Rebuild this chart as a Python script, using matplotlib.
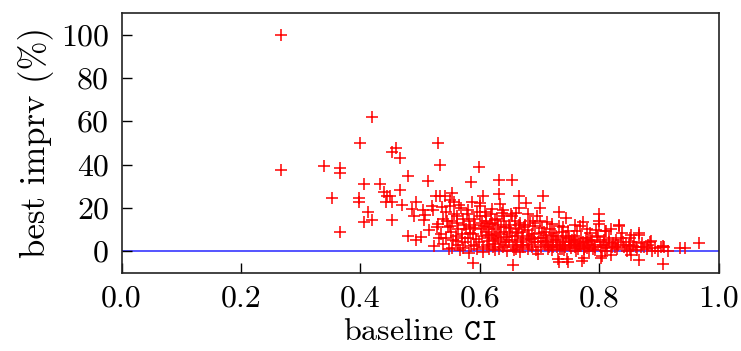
import matplotlib
matplotlib.use("Agg")
import matplotlib.pyplot as plt

# scattered points away from the main cloud
sparse_ci = [0.267, 0.267, 0.419, 0.399, 0.530, 0.459, 0.453, 0.466, 0.339, 0.366,
             0.366, 0.479, 0.513, 0.533, 0.406, 0.433, 0.439, 0.444, 0.449, 0.466,
             0.353, 0.398, 0.398, 0.442, 0.453, 0.469, 0.493, 0.413, 0.406, 0.419,
             0.453, 0.486, 0.489, 0.504, 0.506, 0.508, 0.520, 0.522, 0.527, 0.366,
             0.479, 0.493, 0.501, 0.515, 0.524, 0.529, 0.531, 0.534, 0.541, 0.554,
             0.599, 0.585, 0.632, 0.654, 0.605, 0.632, 0.666, 0.706, 0.530]
sparse_imprv = [100.0, 37.6, 61.9, 49.9, 49.9, 47.7, 45.6, 42.8, 39.1, 38.2,
                36.1, 34.8, 32.4, 40.0, 31.1, 31.1, 27.1, 25.3, 25.3, 28.4,
                24.4, 24.4, 22.8, 22.8, 22.8, 21.3, 22.8, 17.9, 13.3, 14.2,
                14.5, 19.5, 16.4, 18.8, 14.2, 16.7, 20.7, 18.8, 25.3, 9.0,
                6.8, 5.3, 6.5, 9.9, 2.5, 11.2, 5.9, 25.3, 25.3, 26.8,
                38.8, 31.7, 32.7, 32.7, 25.3, 26.5, 25.3, 25.3, 12.4]

# main cloud, (baseline CI, best imprv)
cloud = [
    (0.536, 20.5), (0.538, 15.0), (0.535, 8.0), (0.539, 3.5), (0.544, 18.0), (0.546, 11.0),
    (0.543, 6.0), (0.548, 1.0), (0.550, 23.4), (0.550, 20.7), (0.553, 14.0), (0.552, 9.0),
    (0.555, 5.0), (0.553, 1.3), (0.557, 17.0), (0.556, 22.5), (0.561, 13.0), (0.563, 10.0),
    (0.560, 7.0), (0.564, 3.0), (0.567, 0.7), (0.562, 16.0), (0.565, 21.3), (0.568, 19.8),
    (0.571, 15.0), (0.573, 12.0), (0.570, 8.0), (0.575, 4.0), (0.572, 1.5), (0.576, 10.0),
    (0.578, 17.0), (0.581, 14.0), (0.583, 11.0), (0.580, 6.0), (0.585, 2.5), (0.582, -1.0),
    (0.584, 8.5), (0.586, 22.8), (0.588, -5.5), (0.590, 15.0), (0.592, 12.0), (0.589, 8.0),
    (0.594, 5.5), (0.591, 3.0), (0.595, 1.0), (0.596, 18.0), (0.600, 22.2), (0.600, 20.7),
    (0.601, 16.0), (0.603, 13.0), (0.602, 10.0), (0.604, 7.0), (0.599, 4.0), (0.606, 2.0),
    (0.605, -0.5), (0.607, 11.5), (0.609, 18.0), (0.611, 14.0), (0.613, 11.0), (0.610, 9.0),
    (0.614, 6.0), (0.612, 3.0), (0.615, 1.0), (0.616, 7.5), (0.617, 12.5), (0.619, 17.0),
    (0.621, 13.0), (0.623, 10.0), (0.620, 8.0), (0.624, 5.0), (0.622, 2.0), (0.626, 0.5),
    (0.625, 14.5), (0.627, 7.0), (0.633, 21.6), (0.629, 15.0), (0.631, 12.0), (0.634, 9.0),
    (0.630, 6.0), (0.635, 4.0), (0.632, 1.0), (0.636, 11.0), (0.637, 17.5), (0.639, 19.0),
    (0.641, 14.0), (0.643, 11.0), (0.640, 8.0), (0.644, 5.0), (0.642, 3.0), (0.645, 0.0),
    (0.646, 6.5), (0.652, 17.0), (0.654, 16.1), (0.648, 12.0), (0.650, 9.0), (0.653, 7.0),
    (0.649, 4.0), (0.655, 2.0), (0.655, -6.2), (0.651, 10.5), (0.658, 14.0), (0.660, 10.0),
    (0.662, 7.0), (0.659, 5.0), (0.663, 3.0), (0.661, 1.0), (0.664, 8.5), (0.665, 12.0),
    (0.666, 19.8), (0.668, 13.0), (0.670, 9.0), (0.672, 6.0), (0.669, 4.0), (0.673, 2.0),
    (0.667, -0.2), (0.674, 11.0), (0.678, 22.2), (0.676, 12.0), (0.680, 9.9), (0.682, 7.0),
    (0.679, 5.0), (0.683, 3.0), (0.681, 1.0), (0.684, 14.0), (0.695, 16.4), (0.693, 11.4),
    (0.688, 8.0), (0.690, 6.0), (0.692, 4.0), (0.687, 2.0), (0.694, 0.5), (0.689, 13.0),
    (0.700, 19.8), (0.699, 8.4), (0.702, 6.0), (0.697, 4.0), (0.703, 2.0), (0.698, -1.2),
    (0.704, 10.5), (0.712, 13.6), (0.708, 9.0), (0.710, 6.0), (0.713, 4.0), (0.709, 3.0),
    (0.714, 1.0), (0.711, 7.5), (0.718, 10.0), (0.720, 7.0), (0.722, 5.0), (0.719, 3.0),
    (0.723, 2.0), (0.721, 0.5), (0.724, 8.5), (0.732, 17.9), (0.732, 11.8), (0.728, 7.0),
    (0.730, 5.0), (0.734, 3.0), (0.729, 2.0), (0.735, 1.0), (0.730, -3.5), (0.732, -5.0),
    (0.738, 9.0), (0.740, 6.0), (0.742, 4.0), (0.739, 3.0), (0.743, 2.0), (0.741, 0.5),
    (0.744, 7.0), (0.745, 15.1), (0.748, 9.3), (0.750, 6.0), (0.752, 4.0), (0.749, 3.0),
    (0.753, 1.5), (0.746, -3.5), (0.748, -5.2), (0.754, 5.0), (0.762, 9.3), (0.758, 7.0),
    (0.760, 5.0), (0.763, 3.0), (0.759, 2.0), (0.764, 1.0), (0.761, 0.0), (0.773, 13.3),
    (0.767, 11.8), (0.770, 6.0), (0.772, 4.0), (0.768, 2.5), (0.774, 1.0), (0.774, -3.3),
    (0.771, -4.8), (0.784, 8.4), (0.778, 6.0), (0.780, 4.0), (0.783, 3.0), (0.779, 1.5),
    (0.782, 0.0), (0.781, 5.0), (0.795, 9.6), (0.788, 5.0), (0.791, 3.0), (0.793, 2.0),
    (0.789, 1.0), (0.796, 6.5), (0.799, 17.0), (0.800, 13.8), (0.799, 12.4), (0.798, 7.0),
    (0.801, 4.0), (0.803, 2.0), (0.804, -2.2), (0.802, -3.3), (0.812, 9.3), (0.810, 9.1),
    (0.808, 5.0), (0.811, 3.0), (0.813, 1.5), (0.809, 0.0), (0.819, 10.1), (0.817, 6.0),
    (0.823, 3.6), (0.821, 2.0), (0.820, -1.8), (0.833, 12.1), (0.833, 11.6), (0.828, 5.0),
    (0.831, 3.0), (0.829, 1.0), (0.838, 8.2), (0.840, 4.0), (0.842, 2.0), (0.846, 0.0),
    (0.853, 7.5), (0.851, 6.1), (0.849, 3.0), (0.852, 1.0), (0.853, -1.8), (0.858, 4.0),
    (0.861, 2.0), (0.863, 0.5), (0.867, 8.4), (0.867, 7.3), (0.871, 3.6), (0.869, 2.0),
    (0.867, -4.0), (0.887, 4.5), (0.882, 2.7), (0.879, 1.0), (0.885, 4.4), (0.888, 0.0),
    (0.903, 1.8), (0.899, 0.0), (0.909, 2.1), (0.906, 2.5), (0.915, 0.0), (0.906, -6.1),
    (0.935, 1.3), (0.944, 1.3), (0.967, 3.6),
    (0.615, 4.5), (0.625, 3.5), (0.638, 2.0), (0.657, 0.5), (0.671, 3.0), (0.685, 5.5),
    (0.705, 4.5), (0.715, 2.0), (0.727, 4.0), (0.737, 1.0), (0.751, 2.5), (0.757, 4.0),
    (0.766, 3.5), (0.776, 2.0), (0.786, 4.5), (0.792, 0.5), (0.806, 3.0), (0.816, 4.0),
    (0.826, 2.0), (0.836, 6.0), (0.844, 3.0), (0.856, 2.5), (0.875, 2.0), (0.893, 1.5),
    (0.590, 10.5), (0.610, 16.0), (0.620, 19.5), (0.640, 16.0), (0.660, 17.5), (0.680, 17.0),
    (0.700, 14.0), (0.720, 12.5), (0.740, 11.0), (0.760, 12.0), (0.780, 10.0), (0.570, 6.0),
    (0.560, 4.5), (0.550, 11.5), (0.545, 14.0), (0.580, 19.0),
]

xticks = [0.0, 0.2, 0.4, 0.6, 0.8, 1.0]
yticks = [0, 20, 40, 60, 80, 100]

plt.rcParams['font.family'] = 'cmr10'
plt.rcParams['mathtext.fontset'] = 'cm'
plt.rcParams['axes.formatter.use_mathtext'] = True
plt.rcParams['axes.unicode_minus'] = False

fig = plt.figure(figsize=(7.41, 3.51), dpi=100)
ax = fig.add_axes([0.164, 0.223, 0.806, 0.74])

cloud_ci = [p[0] for p in cloud]
cloud_imprv = [p[1] for p in cloud]

ax.axhline(0, color='#4646ff', lw=1.3, zorder=1)
ax.plot(sparse_ci + cloud_ci, sparse_imprv + cloud_imprv, '+', color='red',
        ms=8.5, mew=1.1, zorder=2)

ax.set_xlim(0, 1)
ax.set_ylim(-10, 110)
ax.set_xticks(xticks)
ax.set_xticklabels(['%.1f' % t for t in xticks])
ax.set_yticks(yticks)
ax.set_yticklabels([str(t) for t in yticks])
ax.tick_params(direction='in', length=7, width=1, labelsize=23, pad=9,
               top=False, right=False)
for s in ax.spines.values():
    s.set_linewidth(1.2)
    s.set_color('#222222')

ax.set_xlabel(r'baseline $\mathtt{CI}$', fontsize=23, labelpad=4)
ax.set_ylabel('best imprv (%)', fontsize=25, labelpad=5)

fig.savefig('out.png', dpi=100)
